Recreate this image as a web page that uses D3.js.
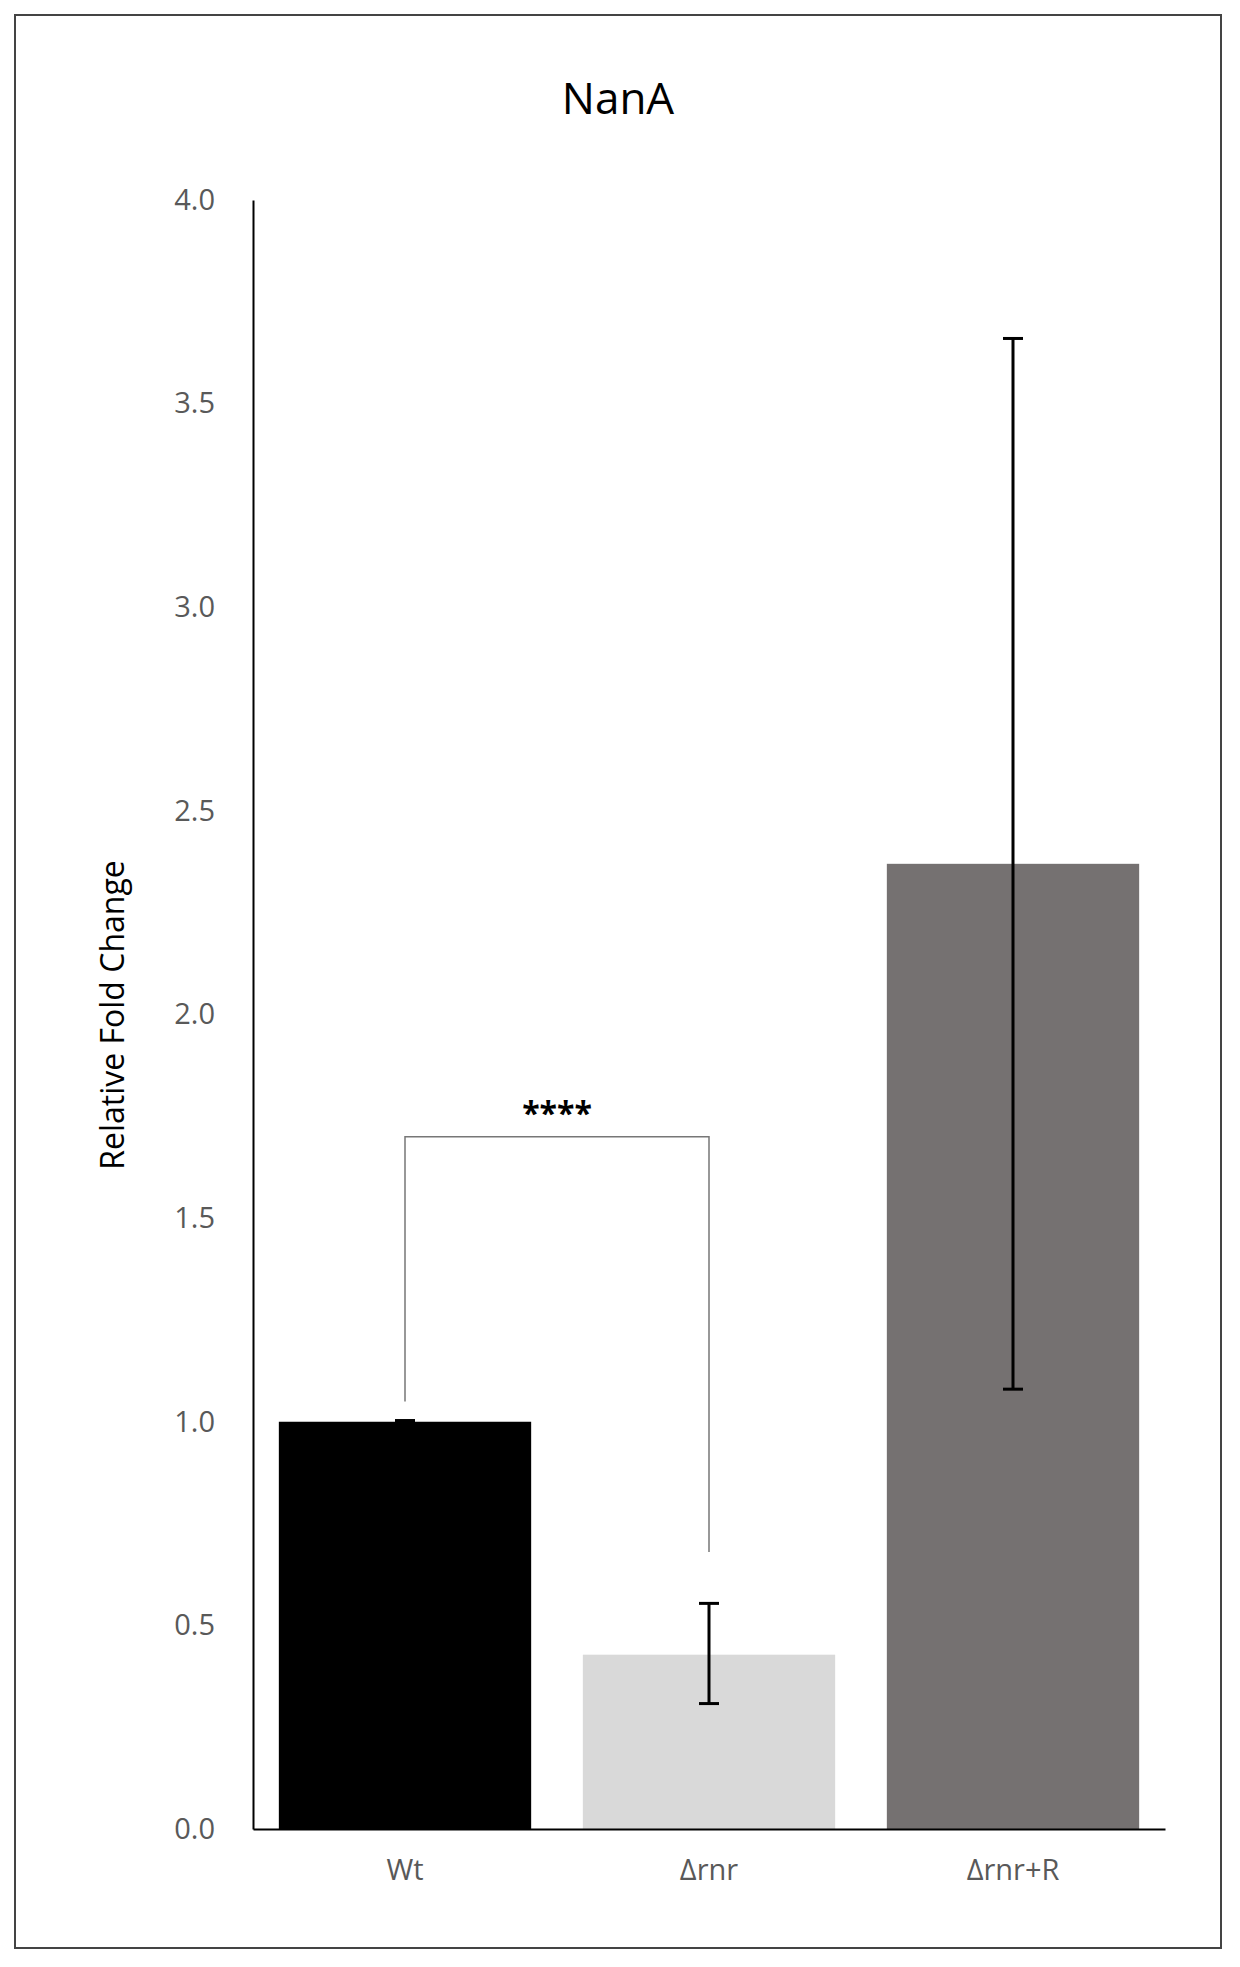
<!DOCTYPE html><html><head><meta charset="utf-8"><script src="https://cdn.jsdelivr.net/npm/d3@7"></script>
<style>body{margin:0;background:#fff}</style></head><body><svg id="c" width="1240" height="1967"></svg>
<script>
const categories=["Wt","Δrnr","Δrnr+R"];
const values=[1.0,0.428,2.37];
const errLow=[0.997,0.308,1.08];
const errHigh=[1.003,0.554,3.66];
const colors=["#000000","#d9d9d9","#757171"];
const yTicks=[0,0.5,1,1.5,2,2.5,3,3.5,4];
const svg=d3.select("#c");
svg.append("rect").attr("x",15).attr("y",15).attr("width",1206).attr("height",1933).attr("fill","none").attr("stroke","#444").attr("stroke-width",2);
const x=d3.scaleBand().domain(categories).range([253,1165]).paddingInner(0.17).paddingOuter(0.085);
const y=d3.scaleLinear().domain([0,4]).range([1829,200]);
svg.append("text").attr("x",618).attr("y",114).attr("text-anchor","middle").attr("font-family","Open Sans").attr("font-size",44).text("NanA");
svg.selectAll(".bar").data(categories).join("rect").attr("x",d=>x(d)).attr("width",x.bandwidth()).attr("y",(d,i)=>y(values[i])).attr("height",(d,i)=>y(0)-y(values[i])).attr("fill",(d,i)=>colors[i]);
const ya=svg.append("g").attr("transform","translate(253,0)").call(d3.axisLeft(y).tickValues(yTicks).tickFormat(d3.format(".1f")).tickSize(0).tickPadding(38));
ya.select(".domain").attr("stroke","#000").attr("stroke-width",2);
ya.selectAll("text").attr("font-family","Open Sans").attr("font-size",29).attr("fill","#595959");
const xa=svg.append("g").attr("transform","translate(0,1829)").call(d3.axisBottom(x).tickSize(0).tickPadding(30));
xa.select(".domain").attr("stroke","#000").attr("stroke-width",2);
xa.selectAll("text").attr("font-family","Open Sans").attr("font-size",29).attr("fill","#595959");
const cx=d=>x(d)+x.bandwidth()/2;
categories.forEach((c,i)=>{
  const g=svg.append("g").attr("stroke","#000").attr("stroke-width",3);
  g.append("line").attr("x1",cx(c)).attr("x2",cx(c)).attr("y1",y(errLow[i])).attr("y2",y(errHigh[i]));
  [errLow[i],errHigh[i]].forEach(v=>g.append("line").attr("x1",cx(c)-10).attr("x2",cx(c)+10).attr("y1",y(v)).attr("y2",y(v)));
});
const br=[1.05,1.70,0.68];
svg.append("path").attr("d",`M${cx("Wt")},${y(br[0])}V${y(br[1])}H${cx("Δrnr")}V${y(br[2])}`).attr("fill","none").attr("stroke","#777").attr("stroke-width",1.5);
svg.append("text").attr("x",(cx("Wt")+cx("Δrnr"))/2).attr("y",y(br[1])-12).attr("text-anchor","middle").attr("font-family","Open Sans").attr("font-size",32).attr("font-weight","bold").text("****");
svg.append("text").attr("transform","translate(124,1015) rotate(-90)").attr("text-anchor","middle").attr("font-family","Open Sans").attr("font-size",32).text("Relative Fold Change");
</script></body></html>
